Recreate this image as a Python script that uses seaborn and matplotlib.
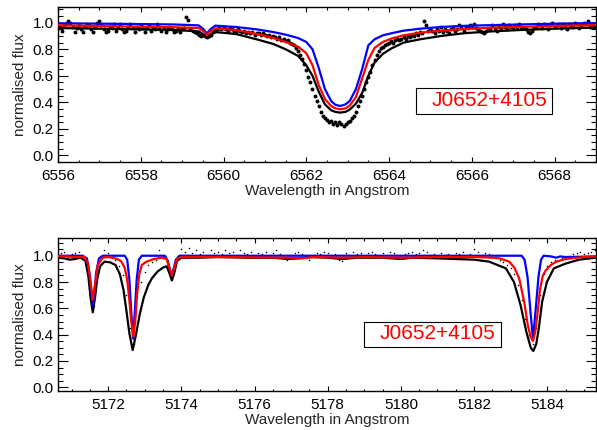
import numpy as np
import pandas as pd
import matplotlib
matplotlib.use("Agg")
import matplotlib.pyplot as plt
import seaborn as sns
from matplotlib.patches import Rectangle
from matplotlib.ticker import MultipleLocator, FormatStrFormatter

# ---------------- H-alpha region ----------------
ha_obs_start = 6556.0
ha_obs_step = 0.05
ha_obs_flux = [
    # 6556.00 - 6558.95
    0.96, 0.97, 0.94, 0.98, 0.99, 1.01, 1.00, 0.97, 0.93, 0.96,
    0.98, 0.95, 0.93, 0.97, 0.99, 0.98, 0.95, 0.93, 0.97, 1.00,
    1.01, 0.98, 0.95, 0.93, 0.94, 0.97, 0.96, 0.99, 0.94, 0.97,
    0.99, 0.95, 0.93, 0.94, 0.97, 0.99, 0.96, 0.93, 0.97, 0.95,
    0.98, 0.96, 0.93, 0.96, 0.98, 0.94, 0.97, 0.95, 0.99, 0.97,
    0.94, 0.96, 0.93, 0.95, 0.97, 0.95, 0.93, 0.94, 0.96, 0.93,
    # 6559.00 - 6559.95
    0.95, 0.96, 1.04, 1.02,
    0.95, 0.94, 0.93, 0.92, 0.91, 0.90, 0.91, 0.90, 0.89, 0.90,
    0.91, 0.93, 0.94, 0.95, 0.96, 0.95,
    # 6560.00 - 6560.95
    0.96, 0.95, 0.94, 0.96, 0.95, 0.94, 0.93, 0.95, 0.94, 0.93,
    0.94, 0.92, 0.93, 0.92, 0.93, 0.91, 0.92, 0.92, 0.91, 0.92,
    # 6561.00 - 6561.95
    0.91, 0.90, 0.91, 0.89, 0.90, 0.89, 0.88, 0.89, 0.87, 0.88,
    0.86, 0.87, 0.85, 0.84, 0.83, 0.81, 0.79, 0.76, 0.73, 0.69,
    # 6562.00 - 6562.95
    0.64, 0.59, 0.55, 0.50, 0.45, 0.41, 0.37, 0.33, 0.30, 0.28,
    0.27, 0.25, 0.26, 0.24, 0.25, 0.23, 0.25, 0.24, 0.22, 0.24,
    # 6563.00 - 6563.95
    0.25, 0.26, 0.28, 0.30, 0.33, 0.37, 0.41, 0.45, 0.50, 0.55,
    0.59, 0.63, 0.68, 0.72, 0.76, 0.79, 0.81, 0.82, 0.83, 0.84,
    # 6564.00 - 6564.95
    0.85, 0.86, 0.85, 0.87, 0.88, 0.87, 0.88, 0.89, 0.88, 0.90,
    0.89, 0.91, 0.90, 0.92, 0.91, 0.93, 0.92, 1.01, 0.98, 0.94,
    # 6565.00 - 6565.95
    0.95, 0.94, 0.92, 0.95, 0.94, 0.97, 0.93, 0.95, 0.94, 0.92,
    0.95, 0.97, 0.94, 0.95, 0.98, 0.96, 0.94, 0.97, 0.96, 0.98,
    # 6566.00 - 6566.95
    0.97, 0.99, 0.96, 0.95, 0.94, 0.93, 0.92, 0.94, 0.96, 0.95,
    0.98, 0.96, 0.94, 0.97, 0.96, 0.99, 0.97, 0.95, 0.98, 0.97,
    # 6567.00 - 6567.95
    0.96, 0.98, 0.97, 0.99, 0.97, 0.96, 0.95, 0.93, 0.92, 0.94,
    0.96, 0.97, 0.99, 0.98, 0.96, 0.99, 0.98, 0.95, 0.98, 1.00,
    # 6568.00 - 6569.00
    0.97, 0.98, 0.99, 0.96, 0.99, 0.98, 0.95, 0.99, 0.98, 0.97,
    1.00, 0.99, 0.96, 0.98, 1.00, 0.99, 1.01, 0.97, 0.99, 0.97,
    0.98,
]

ha_model_wave = [
    6556.0, 6557.0, 6558.0, 6558.8, 6559.4, 6559.52, 6559.6, 6559.68,
    6559.8, 6560.3, 6560.8, 6561.2, 6561.5, 6561.8, 6562.0, 6562.15,
    6562.3, 6562.45, 6562.6, 6562.7, 6562.82, 6562.95, 6563.05, 6563.2,
    6563.35, 6563.5, 6563.65, 6563.85, 6564.05, 6564.35, 6564.75, 6565.25,
    6565.85, 6566.5, 6567.3, 6568.2, 6569.0,
]
ha_model_black = [
    0.960, 0.955, 0.950, 0.945, 0.935, 0.910, 0.885, 0.910,
    0.930, 0.915, 0.875, 0.840, 0.800, 0.750, 0.680, 0.600,
    0.480, 0.385, 0.340, 0.328, 0.322, 0.328, 0.345, 0.390,
    0.470, 0.600, 0.700, 0.765, 0.805, 0.850, 0.875, 0.900,
    0.922, 0.935, 0.947, 0.957, 0.964,
]
ha_model_red = [
    0.980, 0.975, 0.970, 0.966, 0.960, 0.935, 0.905, 0.935,
    0.957, 0.945, 0.915, 0.885, 0.855, 0.820, 0.770, 0.680,
    0.530, 0.425, 0.372, 0.355, 0.347, 0.355, 0.375, 0.440,
    0.580, 0.720, 0.810, 0.855, 0.880, 0.905, 0.925, 0.940,
    0.953, 0.963, 0.970, 0.977, 0.982,
]
ha_model_blue = [
    0.996, 0.993, 0.990, 0.987, 0.980, 0.950, 0.918, 0.950,
    0.978, 0.968, 0.950, 0.930, 0.910, 0.885, 0.855, 0.800,
    0.660, 0.500, 0.410, 0.382, 0.372, 0.385, 0.410, 0.500,
    0.650, 0.830, 0.875, 0.905, 0.920, 0.940, 0.955, 0.968,
    0.977, 0.982, 0.988, 0.994, 0.997,
]

# ---------------- Mg b region ----------------
mg_obs_start = 5170.7
mg_obs_step = 0.1
mg_obs_flux = [
    1.02, 1.03, 0.99, 1.01, 1.02, 1.03, 1.00, 0.95, 0.75, 0.62,
    0.86, 0.99, 1.04, 1.02, 0.98, 0.97, 0.92, 0.85, 0.70, 0.45,
    0.33, 0.48, 0.80, 0.88, 0.93, 0.95, 0.97, 1.04, 0.99, 0.96,
    0.85, 0.90, 1.00, 1.05, 1.03, 1.06, 1.02, 1.04, 1.01, 1.03,
    1.00, 1.04, 1.02, 1.03, 1.01, 1.04, 1.02, 1.03, 0.99, 1.04,
    1.02, 1.01, 1.03, 1.00, 1.02, 1.01, 1.03, 0.99, 1.02, 1.04,
    1.01, 0.98, 0.97, 0.99, 1.02, 1.03, 1.01, 0.98, 0.97, 1.00,
    1.02, 1.01, 1.03, 1.02, 1.00, 1.01, 0.97, 0.96, 1.02, 1.00,
    1.03, 1.01, 1.02, 1.00, 1.02, 1.03, 1.01, 0.99, 1.02, 1.00,
    1.03, 1.02, 0.99, 0.98, 1.01, 1.02, 1.03, 1.01, 1.02, 1.04,
    1.03, 1.00, 1.01, 0.99, 1.02, 0.98, 1.01, 1.00, 1.02, 1.01,
    1.03, 0.99, 1.01, 1.05, 1.03, 1.00, 1.02, 1.01, 0.99, 0.98,
    0.97, 0.95, 0.93, 0.91, 0.86, 0.78, 0.66, 0.52, 0.40, 0.33,
    0.45, 0.70, 0.86, 0.92, 0.95, 0.97, 0.96, 0.98, 0.99, 1.00,
    1.01, 1.02, 1.03, 1.01, 1.02, 1.03, 1.04,
]

mg_black_wave = [
    5170.63, 5170.8, 5170.95, 5171.1, 5171.25, 5171.38, 5171.46, 5171.52,
    5171.58, 5171.64, 5171.70, 5171.78, 5171.9, 5172.05, 5172.2, 5172.32,
    5172.42, 5172.50, 5172.58, 5172.67, 5172.76, 5172.86, 5172.97, 5173.1,
    5173.2, 5173.35, 5173.5, 5173.6, 5173.67, 5173.74, 5173.80, 5173.88,
    5174.0, 5174.5, 5175.0, 5175.8, 5176.5, 5176.9, 5177.2, 5177.5,
    5178.0, 5178.4, 5178.8, 5179.5, 5180.0, 5180.3, 5181.0, 5181.5,
    5182.0, 5182.41, 5182.87, 5183.09, 5183.27, 5183.43, 5183.55, 5183.62,
    5183.70, 5183.77, 5183.86, 5183.99, 5184.18, 5184.5, 5184.87, 5185.33,
]
mg_black_flux = [
    0.985, 0.980, 0.970, 0.975, 0.985, 0.960, 0.840, 0.680,
    0.570, 0.680, 0.820, 0.920, 0.955, 0.950, 0.930, 0.860,
    0.740, 0.580, 0.410, 0.283, 0.400, 0.550, 0.680, 0.780,
    0.830, 0.880, 0.910, 0.920, 0.870, 0.812, 0.860, 0.960,
    0.985, 0.985, 0.990, 0.985, 0.985, 0.975, 0.980, 0.990,
    0.985, 0.975, 0.985, 0.985, 0.975, 0.985, 0.980, 0.975,
    0.970, 0.955, 0.904, 0.800, 0.625, 0.420, 0.300, 0.276,
    0.330, 0.450, 0.650, 0.800, 0.904, 0.940, 0.970, 0.985,
]

mg_red_wave = [
    5170.63, 5170.9, 5171.05, 5171.35, 5171.45, 5171.52, 5171.58, 5171.64,
    5171.72, 5171.85, 5172.0, 5172.2, 5172.35, 5172.45, 5172.52, 5172.58,
    5172.63, 5172.69, 5172.74, 5172.79, 5172.85, 5172.92, 5173.05, 5173.25,
    5173.45, 5173.6, 5173.68, 5173.74, 5173.80, 5173.88, 5174.0, 5175.0,
    5176.9, 5177.3, 5177.6, 5178.4, 5179.0, 5180.0, 5181.0, 5182.0,
    5182.5, 5182.7, 5182.96, 5183.1, 5183.23, 5183.37, 5183.47, 5183.55,
    5183.61, 5183.67, 5183.73, 5183.80, 5183.88, 5183.96, 5184.1, 5184.25,
    5184.5, 5184.8, 5185.0, 5185.33,
]
mg_red_flux = [
    0.995, 0.995, 0.990, 0.990, 0.940, 0.800, 0.663, 0.780,
    0.930, 0.985, 0.990, 0.980, 0.960, 0.910, 0.820, 0.660,
    0.500, 0.385, 0.500, 0.700, 0.860, 0.930, 0.955, 0.975,
    0.985, 0.975, 0.900, 0.855, 0.900, 0.975, 0.990, 0.990,
    0.985, 0.980, 0.990, 0.985, 0.990, 0.985, 0.990, 0.990,
    0.985, 0.980, 0.955, 0.910, 0.830, 0.650, 0.470, 0.380,
    0.352, 0.420, 0.550, 0.740, 0.850, 0.890, 0.930, 0.955,
    0.975, 0.985, 0.990, 0.995,
]

mg_blue_wave = [
    5170.63, 5171.30, 5171.42, 5171.50, 5171.55, 5171.58, 5171.62, 5171.67,
    5171.75, 5171.85, 5172.45, 5172.52, 5172.58, 5172.63, 5172.68, 5172.73,
    5172.78, 5172.84, 5172.92, 5173.55, 5173.63, 5173.70, 5173.74, 5173.78,
    5173.85, 5173.95, 5183.30, 5183.38, 5183.46, 5183.54, 5183.61, 5183.68,
    5183.76, 5183.83, 5183.90, 5184.10, 5184.25, 5184.35, 5184.5, 5185.33,
]
mg_blue_flux = [
    1.000, 1.000, 0.980, 0.850, 0.700, 0.620, 0.700, 0.870,
    0.980, 1.000, 1.000, 0.970, 0.820, 0.580, 0.370, 0.580,
    0.820, 0.970, 1.000, 1.000, 0.960, 0.880, 0.866, 0.890,
    0.970, 1.000, 1.000, 0.970, 0.840, 0.580, 0.365, 0.580,
    0.840, 0.970, 1.000, 0.995, 0.985, 0.995, 0.990, 0.995,
]

star_name = "J0652+4105"
x_label = "Wavelength in Angstrom"
y_label = "normalised flux"

# ---------------- figure ----------------
sns.set_theme(style="ticks")
plt.rcParams["font.family"] = ["Liberation Sans", "DejaVu Sans"]
plt.rcParams["axes.edgecolor"] = "black"
plt.rcParams["axes.linewidth"] = 1.0

fig = plt.figure(figsize=(5.97, 4.30), dpi=100)
fig.patch.set_facecolor("white")
ax_top = fig.add_axes([0.0972, 0.6233, 0.9010, 0.3593])
ax_bot = fig.add_axes([0.0972, 0.0914, 0.9010, 0.3558])

ha_obs = pd.DataFrame({
    "wave": ha_obs_start + ha_obs_step * np.arange(len(ha_obs_flux)),
    "flux": ha_obs_flux,
})
mg_obs = pd.DataFrame({
    "wave": mg_obs_start + mg_obs_step * np.arange(len(mg_obs_flux)),
    "flux": mg_obs_flux,
})

# H-alpha panel
sns.scatterplot(data=ha_obs, x="wave", y="flux", ax=ax_top, color="black",
                s=8, linewidth=0, zorder=2)
sns.lineplot(x=ha_model_wave, y=ha_model_black, ax=ax_top, color="black",
             lw=1.6, sort=False, estimator=None, zorder=3)
sns.lineplot(x=ha_model_wave, y=ha_model_blue, ax=ax_top, color="#0000ff",
             lw=1.6, sort=False, estimator=None, zorder=4)
sns.lineplot(x=ha_model_wave, y=ha_model_red, ax=ax_top, color="#ff0000",
             lw=1.6, sort=False, estimator=None, zorder=5)

# Mg b panel
sns.scatterplot(data=mg_obs, x="wave", y="flux", ax=ax_bot, color="black",
                s=1.2, linewidth=0, zorder=2)
sns.lineplot(x=mg_black_wave, y=mg_black_flux, ax=ax_bot, color="black",
             lw=1.6, sort=False, estimator=None, zorder=3)
sns.lineplot(x=mg_blue_wave, y=mg_blue_flux, ax=ax_bot, color="#0000ff",
             lw=1.6, sort=False, estimator=None, zorder=4)
sns.lineplot(x=mg_red_wave, y=mg_red_flux, ax=ax_bot, color="#ff0000",
             lw=1.6, sort=False, estimator=None, zorder=5)

ax_top.set_xlim(6556.0, 6569.0)
ax_top.set_ylim(-0.05, 1.115)
ax_bot.set_xlim(5170.63, 5185.33)
ax_bot.set_ylim(-0.026, 1.137)

for ax in (ax_top, ax_bot):
    ax.set_facecolor("white")
    ax.xaxis.set_major_locator(MultipleLocator(2))
    ax.xaxis.set_minor_locator(MultipleLocator(0.5))
    ax.yaxis.set_major_locator(MultipleLocator(0.2))
    ax.yaxis.set_minor_locator(MultipleLocator(0.05))
    ax.yaxis.set_major_formatter(FormatStrFormatter("%.1f"))
    ax.xaxis.set_major_formatter(FormatStrFormatter("%d"))
    ax.tick_params(axis="both", which="both", direction="in",
                   top=True, right=True, colors="black", width=0.8,
                   labelsize=11)
    ax.tick_params(axis="x", which="major", length=3.6, pad=5)
    ax.tick_params(axis="x", which="minor", length=1.8)
    ax.tick_params(axis="y", which="major", length=7, pad=3)
    ax.tick_params(axis="y", which="minor", length=3.5)
    ax.set_xlabel(x_label, fontsize=11, labelpad=1)
    ax.set_ylabel(y_label, fontsize=11, labelpad=4)
    for sp in ax.spines.values():
        sp.set_visible(True)
        sp.set_color("black")
        sp.set_linewidth(1.0)

# star name boxes
ax_top.add_patch(Rectangle((0.665, 0.311), 0.253, 0.168, transform=ax_top.transAxes,
                           fill=False, ec="black", lw=0.8, zorder=6))
ax_top.text(0.802, 0.395, star_name, transform=ax_top.transAxes, color="#ff0000",
            fontsize=15, ha="center", va="center", zorder=7)
ax_bot.add_patch(Rectangle((0.569, 0.288), 0.254, 0.163, transform=ax_bot.transAxes,
                           fill=False, ec="black", lw=0.8, zorder=6))
ax_bot.text(0.705, 0.371, star_name, transform=ax_bot.transAxes, color="#ff0000",
            fontsize=15, ha="center", va="center", zorder=7)

fig.savefig("out.png", dpi=100, facecolor="white")
